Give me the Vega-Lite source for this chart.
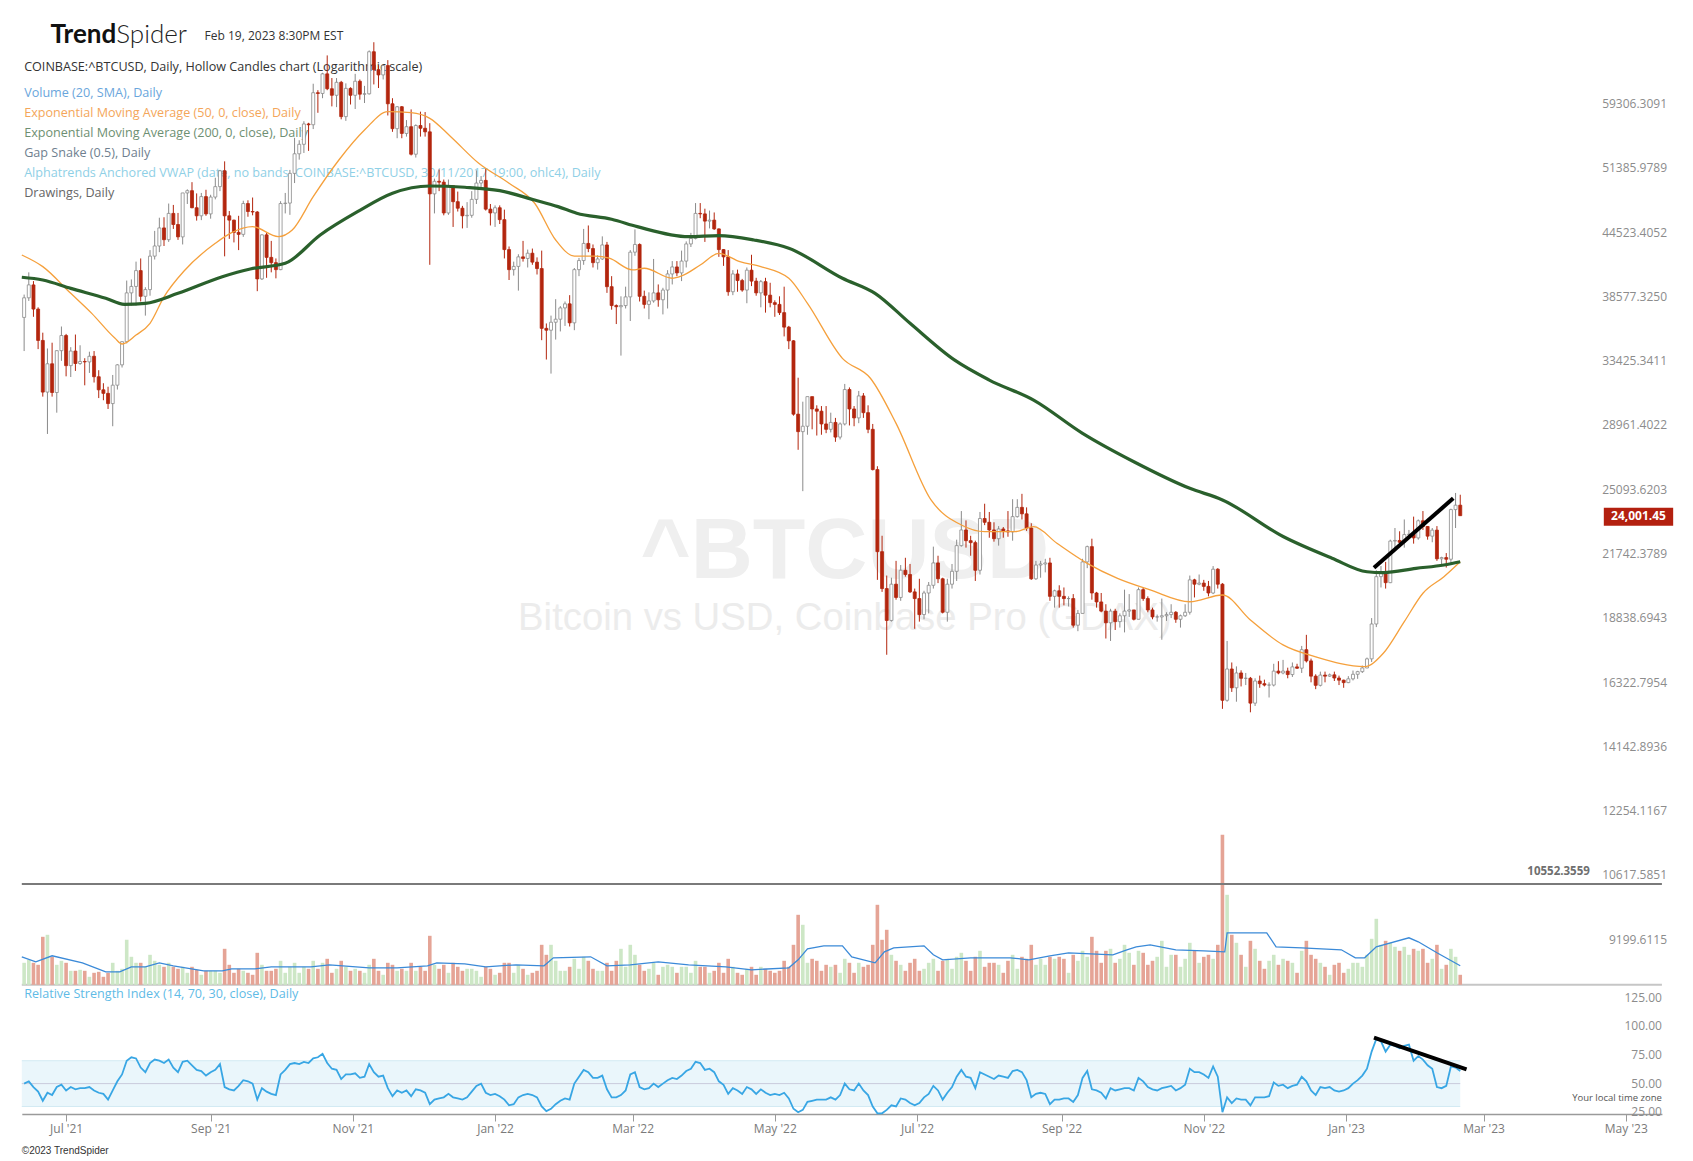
{
"$schema":"https://vega.github.io/schema/vega-lite/v6.json",
"width":1693,"height":1161,"autosize":"none","padding":0,"background":"#ffffff",
"config":{"view":{"stroke":null},"axis":{"grid":false}},
"datasets":{
"candles":[
{"d":"2021-06-13","o":37350,"h":39300,"l":34650,"c":39020,"v":22,"r":50},
{"d":"2021-06-15","o":39020,"h":41300,"l":38750,"c":40160,"v":25,"r":52},
{"d":"2021-06-17","o":40160,"h":40500,"l":37400,"c":38050,"v":22,"r":47},
{"d":"2021-06-19","o":38050,"h":38200,"l":34800,"c":35480,"v":20,"r":43},
{"d":"2021-06-21","o":35480,"h":36100,"l":31300,"c":31620,"v":48,"r":35},
{"d":"2021-06-23","o":31620,"h":34850,"l":28800,"c":33680,"v":50,"r":42},
{"d":"2021-06-25","o":33680,"h":35300,"l":31300,"c":31590,"v":28,"r":40},
{"d":"2021-06-27","o":31590,"h":34700,"l":30200,"c":34680,"v":20,"r":47},
{"d":"2021-06-29","o":34680,"h":36600,"l":33900,"c":35870,"v":24,"r":49},
{"d":"2021-07-01","o":35870,"h":36000,"l":32750,"c":33540,"v":22,"r":44},
{"d":"2021-07-03","o":33540,"h":34950,"l":32700,"c":34650,"v":14,"r":47},
{"d":"2021-07-05","o":34650,"h":35950,"l":33150,"c":33700,"v":14,"r":45},
{"d":"2021-07-07","o":33700,"h":35100,"l":33600,"c":33850,"v":15,"r":46},
{"d":"2021-07-09","o":33850,"h":34100,"l":32100,"c":33820,"v":14,"r":46},
{"d":"2021-07-11","o":33820,"h":34600,"l":33000,"c":34250,"v":8,"r":47},
{"d":"2021-07-13","o":34250,"h":34650,"l":32300,"c":32720,"v":12,"r":44},
{"d":"2021-07-15","o":32720,"h":33200,"l":31200,"c":31780,"v":13,"r":42},
{"d":"2021-07-17","o":31780,"h":32250,"l":31050,"c":31530,"v":8,"r":41},
{"d":"2021-07-19","o":31530,"h":32000,"l":30450,"c":30820,"v":12,"r":36},
{"d":"2021-07-21","o":30820,"h":32850,"l":29300,"c":32110,"v":22,"r":44},
{"d":"2021-07-23","o":32110,"h":33650,"l":31800,"c":33600,"v":14,"r":52},
{"d":"2021-07-25","o":33600,"h":35400,"l":33400,"c":35380,"v":16,"r":58},
{"d":"2021-07-27","o":35380,"h":40550,"l":35250,"c":39450,"v":45,"r":70},
{"d":"2021-07-29","o":39450,"h":40650,"l":38350,"c":40020,"v":28,"r":73},
{"d":"2021-07-31","o":40020,"h":42300,"l":38350,"c":41460,"v":22,"r":72},
{"d":"2021-08-02","o":41460,"h":42600,"l":38700,"c":39150,"v":22,"r":64},
{"d":"2021-08-04","o":39150,"h":39950,"l":37500,"c":39740,"v":18,"r":60},
{"d":"2021-08-06","o":39740,"h":43400,"l":39200,"c":42820,"v":30,"r":68},
{"d":"2021-08-08","o":42820,"h":45300,"l":42500,"c":43800,"v":24,"r":71},
{"d":"2021-08-10","o":43800,"h":46650,"l":43200,"c":45600,"v":20,"r":70},
{"d":"2021-08-12","o":45600,"h":46700,"l":43800,"c":44420,"v":18,"r":68},
{"d":"2021-08-14","o":44420,"h":48150,"l":44200,"c":47100,"v":22,"r":71},
{"d":"2021-08-16","o":47100,"h":48000,"l":45500,"c":45950,"v":18,"r":64},
{"d":"2021-08-18","o":45950,"h":47150,"l":44400,"c":44700,"v":16,"r":60},
{"d":"2021-08-20","o":44700,"h":49300,"l":43950,"c":49300,"v":18,"r":69},
{"d":"2021-08-22","o":49300,"h":49700,"l":48100,"c":49550,"v":12,"r":70},
{"d":"2021-08-24","o":49550,"h":50500,"l":47650,"c":47700,"v":18,"r":66},
{"d":"2021-08-26","o":47700,"h":49250,"l":46350,"c":46850,"v":15,"r":62},
{"d":"2021-08-28","o":46850,"h":49300,"l":46400,"c":48900,"v":10,"r":61},
{"d":"2021-08-30","o":48900,"h":49650,"l":46850,"c":47050,"v":14,"r":57},
{"d":"2021-09-01","o":47050,"h":49100,"l":46550,"c":48850,"v":14,"r":60},
{"d":"2021-09-03","o":48850,"h":51000,"l":48600,"c":50000,"v":14,"r":62},
{"d":"2021-09-05","o":50000,"h":51900,"l":49500,"c":51800,"v":12,"r":67},
{"d":"2021-09-07","o":51800,"h":52900,"l":42800,"c":46850,"v":36,"r":47},
{"d":"2021-09-09","o":46850,"h":47350,"l":44500,"c":46400,"v":20,"r":45},
{"d":"2021-09-11","o":46400,"h":46450,"l":44150,"c":45150,"v":12,"r":44},
{"d":"2021-09-13","o":45150,"h":46850,"l":43400,"c":44950,"v":16,"r":48},
{"d":"2021-09-15","o":44950,"h":48450,"l":44700,"c":48150,"v":14,"r":53},
{"d":"2021-09-17","o":48150,"h":48500,"l":46750,"c":47300,"v":12,"r":52},
{"d":"2021-09-19","o":47300,"h":48800,"l":46900,"c":47250,"v":10,"r":50},
{"d":"2021-09-21","o":47250,"h":47350,"l":39600,"c":40700,"v":32,"r":36},
{"d":"2021-09-23","o":40700,"h":44950,"l":40600,"c":44900,"v":20,"r":46},
{"d":"2021-09-25","o":44900,"h":45100,"l":40800,"c":42700,"v":14,"r":43},
{"d":"2021-09-27","o":42700,"h":44300,"l":41300,"c":42200,"v":14,"r":41},
{"d":"2021-09-29","o":42200,"h":42600,"l":40750,"c":41550,"v":16,"r":40},
{"d":"2021-10-01","o":41550,"h":48400,"l":41500,"c":48150,"v":24,"r":58},
{"d":"2021-10-03","o":48150,"h":49300,"l":47100,"c":48200,"v":12,"r":62},
{"d":"2021-10-05","o":48200,"h":51900,"l":46950,"c":51500,"v":18,"r":67},
{"d":"2021-10-07","o":51500,"h":55750,"l":50400,"c":53800,"v":22,"r":68},
{"d":"2021-10-09","o":53800,"h":55450,"l":53100,"c":54950,"v":12,"r":67},
{"d":"2021-10-11","o":54950,"h":57850,"l":53900,"c":57500,"v":18,"r":69},
{"d":"2021-10-13","o":57500,"h":57650,"l":54150,"c":57400,"v":16,"r":68},
{"d":"2021-10-15","o":57400,"h":62900,"l":56850,"c":61650,"v":24,"r":72},
{"d":"2021-10-17","o":61650,"h":62000,"l":58950,"c":61550,"v":16,"r":73},
{"d":"2021-10-19","o":61550,"h":64450,"l":60900,"c":64300,"v":22,"r":76},
{"d":"2021-10-21","o":64300,"h":67000,"l":62000,"c":62200,"v":26,"r":68},
{"d":"2021-10-23","o":62200,"h":63700,"l":59800,"c":61300,"v":12,"r":63},
{"d":"2021-10-25","o":61300,"h":63700,"l":59700,"c":63100,"v":16,"r":62},
{"d":"2021-10-27","o":63100,"h":63300,"l":58100,"c":58450,"v":24,"r":54},
{"d":"2021-10-29","o":58450,"h":62950,"l":57900,"c":62250,"v":18,"r":58},
{"d":"2021-10-31","o":62250,"h":62400,"l":60050,"c":61300,"v":14,"r":58},
{"d":"2021-11-02","o":61300,"h":64300,"l":59450,"c":63250,"v":16,"r":59},
{"d":"2021-11-04","o":63250,"h":63500,"l":60700,"c":61450,"v":14,"r":55},
{"d":"2021-11-06","o":61450,"h":62600,"l":60250,"c":61500,"v":12,"r":56},
{"d":"2021-11-08","o":61500,"h":67750,"l":61400,"c":67550,"v":20,"r":67},
{"d":"2021-11-10","o":67550,"h":69000,"l":62800,"c":64900,"v":26,"r":60},
{"d":"2021-11-12","o":64900,"h":65550,"l":62300,"c":64150,"v":14,"r":56},
{"d":"2021-11-14","o":64150,"h":65600,"l":63500,"c":65500,"v":10,"r":57},
{"d":"2021-11-16","o":65500,"h":66300,"l":58600,"c":60150,"v":22,"r":46},
{"d":"2021-11-18","o":60150,"h":60900,"l":56500,"c":56900,"v":20,"r":39},
{"d":"2021-11-20","o":56900,"h":59850,"l":55700,"c":59750,"v":14,"r":44},
{"d":"2021-11-22","o":59750,"h":59850,"l":55700,"c":56300,"v":16,"r":42},
{"d":"2021-11-24","o":56300,"h":58000,"l":55900,"c":57150,"v":14,"r":44},
{"d":"2021-11-26","o":57150,"h":59400,"l":53600,"c":53750,"v":22,"r":39},
{"d":"2021-11-28","o":53750,"h":57450,"l":53350,"c":57300,"v":14,"r":45},
{"d":"2021-11-30","o":57300,"h":59100,"l":55900,"c":56950,"v":18,"r":44},
{"d":"2021-12-02","o":56950,"h":59050,"l":55900,"c":56500,"v":14,"r":42},
{"d":"2021-12-04","o":56500,"h":57600,"l":42000,"c":49200,"v":49,"r":32},
{"d":"2021-12-06","o":49200,"h":50900,"l":47100,"c":50600,"v":20,"r":36},
{"d":"2021-12-08","o":50600,"h":51950,"l":49500,"c":50500,"v":16,"r":37},
{"d":"2021-12-10","o":50500,"h":50800,"l":46900,"c":47150,"v":20,"r":38},
{"d":"2021-12-12","o":47150,"h":50800,"l":46950,"c":50100,"v":12,"r":41},
{"d":"2021-12-14","o":50100,"h":50100,"l":45700,"c":48350,"v":22,"r":38},
{"d":"2021-12-16","o":48350,"h":49450,"l":47300,"c":47650,"v":18,"r":37},
{"d":"2021-12-18","o":47650,"h":47900,"l":45550,"c":46850,"v":14,"r":36},
{"d":"2021-12-20","o":46850,"h":48300,"l":45600,"c":46900,"v":16,"r":38},
{"d":"2021-12-22","o":46900,"h":49500,"l":46650,"c":48600,"v":16,"r":43},
{"d":"2021-12-24","o":48600,"h":51850,"l":48100,"c":50400,"v":14,"r":48},
{"d":"2021-12-26","o":50400,"h":51200,"l":49950,"c":50700,"v":8,"r":50},
{"d":"2021-12-28","o":50700,"h":52050,"l":47400,"c":47550,"v":18,"r":42},
{"d":"2021-12-30","o":47550,"h":48100,"l":45850,"c":47150,"v":16,"r":40},
{"d":"2022-01-01","o":47150,"h":47950,"l":45700,"c":47700,"v":10,"r":41},
{"d":"2022-01-03","o":47700,"h":47950,"l":46000,"c":46450,"v":12,"r":39},
{"d":"2022-01-05","o":46450,"h":47500,"l":42600,"c":43450,"v":22,"r":36},
{"d":"2022-01-07","o":43450,"h":43750,"l":40600,"c":41550,"v":22,"r":31},
{"d":"2022-01-09","o":41550,"h":42300,"l":41000,"c":41850,"v":12,"r":32},
{"d":"2022-01-11","o":41850,"h":43000,"l":39650,"c":42750,"v":20,"r":38},
{"d":"2022-01-13","o":42750,"h":44300,"l":42300,"c":42600,"v":16,"r":40},
{"d":"2022-01-15","o":42600,"h":43450,"l":41750,"c":43100,"v":10,"r":41},
{"d":"2022-01-17","o":43100,"h":43550,"l":42000,"c":42250,"v":12,"r":40},
{"d":"2022-01-19","o":42250,"h":42700,"l":41100,"c":41650,"v":14,"r":38},
{"d":"2022-01-21","o":41650,"h":43350,"l":35500,"c":36450,"v":40,"r":30},
{"d":"2022-01-23","o":36450,"h":36850,"l":34000,"c":36300,"v":30,"r":26},
{"d":"2022-01-25","o":36300,"h":37500,"l":32950,"c":36950,"v":40,"r":28},
{"d":"2022-01-27","o":36950,"h":38900,"l":35550,"c":37200,"v":24,"r":32},
{"d":"2022-01-29","o":37200,"h":38300,"l":36200,"c":38150,"v":14,"r":35},
{"d":"2022-01-31","o":38150,"h":38700,"l":36650,"c":38500,"v":14,"r":37},
{"d":"2022-02-02","o":38500,"h":39250,"l":36600,"c":36900,"v":18,"r":36},
{"d":"2022-02-04","o":36900,"h":41700,"l":36300,"c":41550,"v":26,"r":50},
{"d":"2022-02-06","o":41550,"h":42650,"l":40950,"c":42400,"v":16,"r":56},
{"d":"2022-02-08","o":42400,"h":45500,"l":42000,"c":44050,"v":28,"r":62},
{"d":"2022-02-10","o":44050,"h":45850,"l":43200,"c":43550,"v":24,"r":60},
{"d":"2022-02-12","o":43550,"h":43950,"l":41750,"c":42200,"v":16,"r":55},
{"d":"2022-02-14","o":42200,"h":42900,"l":41550,"c":42550,"v":14,"r":55},
{"d":"2022-02-16","o":42550,"h":44750,"l":42450,"c":43900,"v":14,"r":57},
{"d":"2022-02-18","o":43900,"h":44200,"l":39450,"c":40000,"v":22,"r":45},
{"d":"2022-02-20","o":40000,"h":40950,"l":38000,"c":38350,"v":14,"r":38},
{"d":"2022-02-22","o":38350,"h":38450,"l":36800,"c":38250,"v":24,"r":38},
{"d":"2022-02-24","o":38250,"h":39150,"l":34300,"c":38350,"v":36,"r":40},
{"d":"2022-02-26","o":38350,"h":40000,"l":38100,"c":39100,"v":18,"r":44},
{"d":"2022-02-28","o":39100,"h":43400,"l":37050,"c":43200,"v":40,"r":58},
{"d":"2022-03-02","o":43200,"h":45450,"l":42850,"c":43950,"v":30,"r":60},
{"d":"2022-03-04","o":43950,"h":44050,"l":38700,"c":39150,"v":20,"r":47},
{"d":"2022-03-06","o":39150,"h":39650,"l":38100,"c":38450,"v":14,"r":45},
{"d":"2022-03-08","o":38450,"h":39500,"l":37200,"c":38750,"v":16,"r":46},
{"d":"2022-03-10","o":38750,"h":42550,"l":38600,"c":39450,"v":22,"r":50},
{"d":"2022-03-12","o":39450,"h":40200,"l":38250,"c":38850,"v":10,"r":47},
{"d":"2022-03-14","o":38850,"h":39900,"l":37600,"c":39700,"v":18,"r":50},
{"d":"2022-03-16","o":39700,"h":41500,"l":38100,"c":41150,"v":20,"r":53},
{"d":"2022-03-18","o":41150,"h":42350,"l":40200,"c":41800,"v":18,"r":55},
{"d":"2022-03-20","o":41800,"h":42350,"l":40950,"c":41250,"v":12,"r":54},
{"d":"2022-03-22","o":41250,"h":43350,"l":40500,"c":42350,"v":18,"r":57},
{"d":"2022-03-24","o":42350,"h":44250,"l":41750,"c":44000,"v":18,"r":61},
{"d":"2022-03-26","o":44000,"h":45100,"l":43700,"c":44550,"v":12,"r":63},
{"d":"2022-03-28","o":44550,"h":48200,"l":44450,"c":47100,"v":24,"r":69},
{"d":"2022-03-30","o":47100,"h":48200,"l":46600,"c":47050,"v":18,"r":68},
{"d":"2022-04-01","o":47050,"h":47600,"l":44200,"c":46300,"v":18,"r":62},
{"d":"2022-04-03","o":46300,"h":47400,"l":45550,"c":46400,"v":12,"r":63},
{"d":"2022-04-05","o":46400,"h":47200,"l":45400,"c":45500,"v":14,"r":60},
{"d":"2022-04-07","o":45500,"h":45550,"l":42750,"c":43450,"v":22,"r":52},
{"d":"2022-04-09","o":43450,"h":43500,"l":41900,"c":42750,"v":12,"r":49},
{"d":"2022-04-11","o":42750,"h":43400,"l":39200,"c":39550,"v":26,"r":41},
{"d":"2022-04-13","o":39550,"h":41500,"l":39250,"c":41150,"v":18,"r":46},
{"d":"2022-04-15","o":41150,"h":41550,"l":39550,"c":40550,"v":12,"r":44},
{"d":"2022-04-17","o":40550,"h":40700,"l":39550,"c":39700,"v":10,"r":41},
{"d":"2022-04-19","o":39700,"h":41750,"l":38550,"c":41500,"v":16,"r":47},
{"d":"2022-04-21","o":41500,"h":42950,"l":40050,"c":40500,"v":18,"r":45},
{"d":"2022-04-23","o":40500,"h":40800,"l":39200,"c":39450,"v":10,"r":41},
{"d":"2022-04-25","o":39450,"h":40600,"l":38200,"c":40450,"v":18,"r":45},
{"d":"2022-04-27","o":40450,"h":40800,"l":37750,"c":39250,"v":16,"r":42},
{"d":"2022-04-29","o":39250,"h":40350,"l":38200,"c":38600,"v":14,"r":40},
{"d":"2022-05-01","o":38600,"h":38800,"l":37400,"c":38450,"v":12,"r":41},
{"d":"2022-05-03","o":38450,"h":39150,"l":37550,"c":37750,"v":14,"r":40},
{"d":"2022-05-05","o":37750,"h":40000,"l":35800,"c":36550,"v":24,"r":42},
{"d":"2022-05-07","o":36550,"h":36650,"l":34800,"c":35450,"v":18,"r":37},
{"d":"2022-05-09","o":35450,"h":35500,"l":30000,"c":30100,"v":40,"r":28},
{"d":"2022-05-11","o":30100,"h":32650,"l":27800,"c":28950,"v":70,"r":25},
{"d":"2022-05-13","o":28950,"h":30950,"l":25350,"c":29300,"v":60,"r":27},
{"d":"2022-05-15","o":29300,"h":31300,"l":28750,"c":31300,"v":22,"r":34},
{"d":"2022-05-17","o":31300,"h":31300,"l":29100,"c":30450,"v":26,"r":35},
{"d":"2022-05-19","o":30450,"h":30700,"l":28700,"c":30300,"v":24,"r":36},
{"d":"2022-05-21","o":30300,"h":30650,"l":28750,"c":29450,"v":14,"r":36},
{"d":"2022-05-23","o":29450,"h":30650,"l":28850,"c":29100,"v":20,"r":36},
{"d":"2022-05-25","o":29100,"h":30200,"l":28900,"c":29550,"v":18,"r":38},
{"d":"2022-05-27","o":29550,"h":29850,"l":28300,"c":28600,"v":20,"r":36},
{"d":"2022-05-29","o":28600,"h":29550,"l":28450,"c":29450,"v":12,"r":40},
{"d":"2022-05-31","o":29450,"h":32200,"l":29350,"c":31800,"v":26,"r":50},
{"d":"2022-06-02","o":31800,"h":31950,"l":29350,"c":30450,"v":22,"r":45},
{"d":"2022-06-04","o":30450,"h":30650,"l":29300,"c":29850,"v":12,"r":44},
{"d":"2022-06-06","o":29850,"h":31700,"l":29500,"c":31350,"v":22,"r":50},
{"d":"2022-06-08","o":31350,"h":31550,"l":29850,"c":30200,"v":18,"r":44},
{"d":"2022-06-10","o":30200,"h":30700,"l":28850,"c":29100,"v":20,"r":40},
{"d":"2022-06-12","o":29100,"h":29450,"l":26550,"c":26600,"v":40,"r":30},
{"d":"2022-06-14","o":26600,"h":26800,"l":20800,"c":22150,"v":80,"r":24},
{"d":"2022-06-16","o":22150,"h":22950,"l":20250,"c":20400,"v":45,"r":24},
{"d":"2022-06-18","o":20400,"h":21000,"l":17600,"c":19000,"v":55,"r":27},
{"d":"2022-06-20","o":19000,"h":20900,"l":18950,"c":20600,"v":30,"r":31},
{"d":"2022-06-22","o":20600,"h":21700,"l":19900,"c":20000,"v":24,"r":30},
{"d":"2022-06-24","o":20000,"h":21500,"l":19850,"c":21250,"v":20,"r":37},
{"d":"2022-06-26","o":21250,"h":21850,"l":20950,"c":21050,"v":14,"r":36},
{"d":"2022-06-28","o":21050,"h":21550,"l":20200,"c":20250,"v":22,"r":33},
{"d":"2022-06-30","o":20250,"h":20400,"l":18650,"c":19950,"v":26,"r":31},
{"d":"2022-07-02","o":19950,"h":20850,"l":18950,"c":19250,"v":14,"r":33},
{"d":"2022-07-04","o":19250,"h":20300,"l":19050,"c":20200,"v":16,"r":38},
{"d":"2022-07-06","o":20200,"h":20700,"l":19300,"c":20550,"v":22,"r":41},
{"d":"2022-07-08","o":20550,"h":22400,"l":20400,"c":21600,"v":26,"r":48},
{"d":"2022-07-10","o":21600,"h":21950,"l":20650,"c":20850,"v":14,"r":44},
{"d":"2022-07-12","o":20850,"h":20900,"l":19300,"c":19350,"v":24,"r":36},
{"d":"2022-07-14","o":19350,"h":20850,"l":18950,"c":20600,"v":26,"r":42},
{"d":"2022-07-16","o":20600,"h":21550,"l":20400,"c":21200,"v":16,"r":47},
{"d":"2022-07-18","o":21200,"h":22750,"l":20750,"c":22450,"v":28,"r":56},
{"d":"2022-07-20","o":22450,"h":24250,"l":22400,"c":23250,"v":32,"r":62},
{"d":"2022-07-22","o":23250,"h":23750,"l":22350,"c":22700,"v":24,"r":56},
{"d":"2022-07-24","o":22700,"h":22950,"l":21950,"c":22600,"v":14,"r":55},
{"d":"2022-07-26","o":22600,"h":22700,"l":20750,"c":21250,"v":28,"r":46},
{"d":"2022-07-28","o":21250,"h":24200,"l":21050,"c":23850,"v":34,"r":60},
{"d":"2022-07-30","o":23850,"h":24650,"l":23500,"c":23650,"v":18,"r":58},
{"d":"2022-08-01","o":23650,"h":24200,"l":22850,"c":23250,"v":22,"r":56},
{"d":"2022-08-03","o":23250,"h":23650,"l":22650,"c":22800,"v":22,"r":54},
{"d":"2022-08-05","o":22800,"h":23450,"l":22450,"c":23300,"v":20,"r":57},
{"d":"2022-08-07","o":23300,"h":23400,"l":22850,"c":23200,"v":12,"r":56},
{"d":"2022-08-09","o":23200,"h":24250,"l":22900,"c":23150,"v":24,"r":55},
{"d":"2022-08-11","o":23150,"h":24900,"l":22700,"c":23950,"v":30,"r":61},
{"d":"2022-08-13","o":23950,"h":24900,"l":23900,"c":24450,"v":16,"r":62},
{"d":"2022-08-15","o":24450,"h":25200,"l":23800,"c":24100,"v":28,"r":60},
{"d":"2022-08-17","o":24100,"h":24450,"l":23200,"c":23350,"v":26,"r":53},
{"d":"2022-08-19","o":23350,"h":23600,"l":20800,"c":20850,"v":40,"r":38},
{"d":"2022-08-21","o":20850,"h":21700,"l":20800,"c":21500,"v":20,"r":41},
{"d":"2022-08-23","o":21500,"h":21700,"l":20900,"c":21550,"v":26,"r":42},
{"d":"2022-08-25","o":21550,"h":21800,"l":21150,"c":21600,"v":20,"r":41},
{"d":"2022-08-27","o":21600,"h":21850,"l":19850,"c":20050,"v":28,"r":32},
{"d":"2022-08-29","o":20050,"h":20350,"l":19550,"c":20300,"v":26,"r":36},
{"d":"2022-08-31","o":20300,"h":20550,"l":19550,"c":20050,"v":28,"r":36},
{"d":"2022-09-02","o":20050,"h":20450,"l":19650,"c":19950,"v":26,"r":37},
{"d":"2022-09-04","o":19950,"h":20050,"l":19600,"c":19950,"v":12,"r":37},
{"d":"2022-09-06","o":19950,"h":20150,"l":18700,"c":18800,"v":30,"r":34},
{"d":"2022-09-08","o":18800,"h":19450,"l":18550,"c":19300,"v":24,"r":40},
{"d":"2022-09-10","o":19300,"h":21800,"l":19300,"c":21650,"v":34,"r":55},
{"d":"2022-09-12","o":21650,"h":22450,"l":21350,"c":22400,"v":28,"r":61},
{"d":"2022-09-14","o":22400,"h":22800,"l":19900,"c":20200,"v":48,"r":45},
{"d":"2022-09-16","o":20200,"h":20250,"l":19550,"c":19800,"v":34,"r":44},
{"d":"2022-09-18","o":19800,"h":20200,"l":19350,"c":19400,"v":22,"r":42},
{"d":"2022-09-20","o":19400,"h":19700,"l":18250,"c":18900,"v":34,"r":37},
{"d":"2022-09-22","o":18900,"h":19500,"l":18150,"c":19400,"v":36,"r":46},
{"d":"2022-09-24","o":19400,"h":19500,"l":18600,"c":18950,"v":22,"r":44},
{"d":"2022-09-26","o":18950,"h":19300,"l":18700,"c":19200,"v":26,"r":45},
{"d":"2022-09-28","o":19200,"h":20350,"l":18500,"c":19400,"v":40,"r":46},
{"d":"2022-09-30","o":19400,"h":20150,"l":19150,"c":19450,"v":32,"r":46},
{"d":"2022-10-02","o":19450,"h":19450,"l":19000,"c":19050,"v":20,"r":44},
{"d":"2022-10-04","o":19050,"h":20450,"l":19050,"c":20350,"v":34,"r":55},
{"d":"2022-10-06","o":20350,"h":20450,"l":19850,"c":19950,"v":32,"r":52},
{"d":"2022-10-08","o":19950,"h":20050,"l":19350,"c":19450,"v":20,"r":47},
{"d":"2022-10-10","o":19450,"h":19550,"l":19050,"c":19150,"v":24,"r":45},
{"d":"2022-10-12","o":19150,"h":19250,"l":18950,"c":19150,"v":28,"r":44},
{"d":"2022-10-14","o":19150,"h":19950,"l":18200,"c":19200,"v":44,"r":46},
{"d":"2022-10-16","o":19200,"h":19350,"l":18980,"c":19250,"v":18,"r":47},
{"d":"2022-10-18","o":19250,"h":19700,"l":19100,"c":19350,"v":30,"r":48},
{"d":"2022-10-20","o":19350,"h":19400,"l":18900,"c":19050,"v":30,"r":44},
{"d":"2022-10-22","o":19050,"h":19250,"l":18700,"c":19200,"v":18,"r":46},
{"d":"2022-10-24","o":19200,"h":19700,"l":19150,"c":19350,"v":26,"r":49},
{"d":"2022-10-26","o":19350,"h":21000,"l":19250,"c":20800,"v":42,"r":63},
{"d":"2022-10-28","o":20800,"h":20850,"l":20000,"c":20600,"v":34,"r":60},
{"d":"2022-10-30","o":20600,"h":21050,"l":20550,"c":20650,"v":22,"r":60},
{"d":"2022-11-01","o":20650,"h":20800,"l":20300,"c":20500,"v":28,"r":58},
{"d":"2022-11-03","o":20500,"h":20750,"l":20050,"c":20200,"v":30,"r":55},
{"d":"2022-11-05","o":20200,"h":21450,"l":20150,"c":21300,"v":26,"r":65},
{"d":"2022-11-07","o":21300,"h":21350,"l":20400,"c":20600,"v":40,"r":56},
{"d":"2022-11-09","o":20600,"h":20650,"l":15600,"c":15900,"v":150,"r":25},
{"d":"2022-11-11","o":15900,"h":18150,"l":15850,"c":17050,"v":90,"r":38},
{"d":"2022-11-13","o":17050,"h":17300,"l":16200,"c":16350,"v":50,"r":33},
{"d":"2022-11-15","o":16350,"h":17150,"l":15850,"c":16900,"v":42,"r":37},
{"d":"2022-11-17","o":16900,"h":17000,"l":16400,"c":16700,"v":30,"r":36},
{"d":"2022-11-19","o":16700,"h":16900,"l":16450,"c":16700,"v":18,"r":36},
{"d":"2022-11-21","o":16700,"h":16750,"l":15480,"c":15800,"v":44,"r":31},
{"d":"2022-11-23","o":15800,"h":16700,"l":15700,"c":16600,"v":36,"r":38},
{"d":"2022-11-25","o":16600,"h":16800,"l":16350,"c":16500,"v":24,"r":38},
{"d":"2022-11-27","o":16500,"h":16650,"l":16400,"c":16450,"v":16,"r":38},
{"d":"2022-11-29","o":16450,"h":16550,"l":16000,"c":16450,"v":24,"r":39},
{"d":"2022-12-01","o":16450,"h":17250,"l":16400,"c":16970,"v":30,"r":51},
{"d":"2022-12-03","o":16970,"h":17350,"l":16850,"c":16900,"v":20,"r":48},
{"d":"2022-12-05","o":16900,"h":17400,"l":16850,"c":16970,"v":26,"r":49},
{"d":"2022-12-07","o":16970,"h":17100,"l":16700,"c":16840,"v":24,"r":46},
{"d":"2022-12-09","o":16840,"h":17300,"l":16750,"c":17130,"v":22,"r":48},
{"d":"2022-12-11","o":17130,"h":17250,"l":17050,"c":17080,"v":12,"r":49},
{"d":"2022-12-13","o":17080,"h":17950,"l":16900,"c":17800,"v":34,"r":56},
{"d":"2022-12-15","o":17800,"h":18400,"l":17300,"c":17360,"v":44,"r":52},
{"d":"2022-12-17","o":17360,"h":17450,"l":16550,"c":16780,"v":30,"r":44},
{"d":"2022-12-19","o":16780,"h":16850,"l":16300,"c":16440,"v":26,"r":40},
{"d":"2022-12-21","o":16440,"h":16950,"l":16400,"c":16820,"v":22,"r":47},
{"d":"2022-12-23","o":16820,"h":16950,"l":16550,"c":16780,"v":18,"r":46},
{"d":"2022-12-25","o":16780,"h":16880,"l":16750,"c":16830,"v":10,"r":47},
{"d":"2022-12-27","o":16830,"h":16950,"l":16600,"c":16710,"v":20,"r":44},
{"d":"2022-12-29","o":16710,"h":16800,"l":16450,"c":16630,"v":22,"r":43},
{"d":"2022-12-31","o":16630,"h":16650,"l":16350,"c":16540,"v":12,"r":44},
{"d":"2023-01-02","o":16540,"h":16780,"l":16520,"c":16680,"v":16,"r":46},
{"d":"2023-01-04","o":16680,"h":16990,"l":16620,"c":16850,"v":22,"r":50},
{"d":"2023-01-06","o":16850,"h":16980,"l":16680,"c":16950,"v":22,"r":53},
{"d":"2023-01-08","o":16950,"h":17180,"l":16900,"c":17090,"v":18,"r":57},
{"d":"2023-01-10","o":17090,"h":17490,"l":17080,"c":17440,"v":30,"r":63},
{"d":"2023-01-12","o":17440,"h":19100,"l":17320,"c":18850,"v":46,"r":78},
{"d":"2023-01-14","o":18850,"h":21250,"l":18720,"c":20950,"v":66,"r":89},
{"d":"2023-01-16","o":20950,"h":21450,"l":20450,"c":21170,"v":40,"r":87},
{"d":"2023-01-18","o":21170,"h":21650,"l":20400,"c":20670,"v":44,"r":78},
{"d":"2023-01-20","o":20670,"h":22750,"l":20650,"c":22680,"v":42,"r":84},
{"d":"2023-01-22","o":22680,"h":23350,"l":22300,"c":22710,"v":38,"r":83},
{"d":"2023-01-24","o":22710,"h":23180,"l":22520,"c":22620,"v":34,"r":81},
{"d":"2023-01-26","o":22620,"h":23800,"l":22350,"c":23010,"v":38,"r":83},
{"d":"2023-01-28","o":23010,"h":23250,"l":22900,"c":23030,"v":30,"r":84},
{"d":"2023-01-30","o":23030,"h":23950,"l":22550,"c":22840,"v":36,"r":70},
{"d":"2023-02-01","o":22840,"h":23800,"l":22750,"c":23730,"v":34,"r":74},
{"d":"2023-02-03","o":23730,"h":24250,"l":23250,"c":23430,"v":36,"r":71},
{"d":"2023-02-05","o":23430,"h":23450,"l":22750,"c":22930,"v":22,"r":66},
{"d":"2023-02-07","o":22930,"h":23350,"l":22620,"c":23240,"v":26,"r":63},
{"d":"2023-02-09","o":23240,"h":23450,"l":21700,"c":21800,"v":40,"r":47},
{"d":"2023-02-11","o":21800,"h":21900,"l":21450,"c":21860,"v":16,"r":46},
{"d":"2023-02-13","o":21860,"h":22080,"l":21380,"c":21780,"v":20,"r":48},
{"d":"2023-02-15","o":21780,"h":24380,"l":21540,"c":24330,"v":36,"r":65},
{"d":"2023-02-17","o":24330,"h":25250,"l":23350,"c":24570,"v":28,"r":64},
{"d":"2023-02-19","o":24570,"h":25150,"l":24000,"c":24001.45,"v":10,"r":61}
],
"ema50":[
{"d":"2021-06-12","p":42930},{"d":"2021-06-21","p":41830},{"d":"2021-07-03","p":39410},{"d":"2021-07-12","p":37690},{"d":"2021-07-22","p":35650},{"d":"2021-07-25","p":35200},{"d":"2021-07-31","p":35910},{"d":"2021-08-06","p":36860},{"d":"2021-08-12","p":39100},{"d":"2021-08-21","p":41520},{"d":"2021-09-03","p":44060},{"d":"2021-09-10","p":45120},{"d":"2021-09-19","p":45730},{"d":"2021-09-30","p":44720},{"d":"2021-10-06","p":45390},{"d":"2021-10-15","p":48890},{"d":"2021-10-26","p":53060},{"d":"2021-11-06","p":56730},{"d":"2021-11-16","p":59100},{"d":"2021-11-26","p":58960},{"d":"2021-12-04","p":58230},{"d":"2021-12-13","p":55890},{"d":"2021-12-25","p":52670},{"d":"2022-01-07","p":50380},{"d":"2022-01-18","p":48180},{"d":"2022-01-27","p":44390},{"d":"2022-02-04","p":42830},{"d":"2022-02-13","p":42830},{"d":"2022-02-19","p":42620},{"d":"2022-03-01","p":41520},{"d":"2022-03-06","p":41680},{"d":"2022-03-18","p":40760},{"d":"2022-03-22","p":40970},{"d":"2022-03-30","p":41980},{"d":"2022-04-07","p":43090},{"d":"2022-04-16","p":42290},{"d":"2022-04-25","p":41830},{"d":"2022-05-07","p":40760},{"d":"2022-05-15","p":38540},{"d":"2022-05-30","p":34090},{"d":"2022-06-11","p":32610},{"d":"2022-06-22","p":29490},{"d":"2022-07-07","p":24860},{"d":"2022-07-20","p":23510},{"d":"2022-07-30","p":23160},{"d":"2022-08-12","p":23160},{"d":"2022-08-20","p":23420},{"d":"2022-08-30","p":22570},{"d":"2022-09-12","p":21580},{"d":"2022-09-25","p":20870},{"d":"2022-10-09","p":20340},{"d":"2022-10-26","p":19810},{"d":"2022-11-09","p":20110},{"d":"2022-11-21","p":19020},{"d":"2022-12-05","p":17990},{"d":"2022-12-19","p":17520},{"d":"2023-01-09","p":17140},{"d":"2023-01-17","p":17660},{"d":"2023-01-26","p":18950},{"d":"2023-02-03","p":20190},{"d":"2023-02-12","p":20950},{"d":"2023-02-19","p":21660}
],
"ema200":[
{"d":"2021-06-12","p":40850},{"d":"2021-06-21","p":40600},{"d":"2021-07-03","p":39850},{"d":"2021-07-18","p":38980},{"d":"2021-07-26","p":38460},{"d":"2021-08-04","p":38540},{"d":"2021-08-18","p":39410},{"d":"2021-09-06","p":40900},{"d":"2021-09-18","p":41610},{"d":"2021-10-03","p":42140},{"d":"2021-10-18","p":44890},{"d":"2021-11-03","p":47280},{"d":"2021-11-18","p":49270},{"d":"2021-12-04","p":50070},{"d":"2021-12-19","p":49930},{"d":"2022-01-03","p":49550},{"d":"2022-01-18","p":48530},{"d":"2022-01-28","p":47820},{"d":"2022-02-05","p":47120},{"d":"2022-02-20","p":46490},{"d":"2022-03-03","p":45730},{"d":"2022-03-25","p":44720},{"d":"2022-04-07","p":44820},{"d":"2022-04-22","p":44390},{"d":"2022-05-07","p":43580},{"d":"2022-05-30","p":40760},{"d":"2022-06-13","p":39410},{"d":"2022-06-28","p":36860},{"d":"2022-07-17","p":33970},{"d":"2022-08-01","p":32480},{"d":"2022-08-20","p":31060},{"d":"2022-09-10","p":28840},{"d":"2022-10-02","p":27070},{"d":"2022-10-26","p":25510},{"d":"2022-11-09","p":24860},{"d":"2022-12-05","p":22910},{"d":"2022-12-26","p":21830},{"d":"2023-01-10","p":21180},{"d":"2023-01-17","p":21140},{"d":"2023-01-31","p":21340},{"d":"2023-02-12","p":21500},{"d":"2023-02-19","p":21660}
],
"volsma":[
{"d":"2021-06-12","v":28},{"d":"2021-06-18","v":23},{"d":"2021-06-25","v":29},{"d":"2021-07-08","v":22},{"d":"2021-07-18","v":13},{"d":"2021-07-24","v":13},{"d":"2021-07-29","v":18},{"d":"2021-08-04","v":18},{"d":"2021-08-10","v":22},{"d":"2021-08-16","v":19},{"d":"2021-08-29","v":14},{"d":"2021-09-06","v":14},{"d":"2021-09-10","v":16},{"d":"2021-09-20","v":16},{"d":"2021-09-27","v":18},{"d":"2021-10-14","v":18},{"d":"2021-10-22","v":20},{"d":"2021-11-08","v":17},{"d":"2021-11-20","v":17},{"d":"2021-12-03","v":19},{"d":"2021-12-07","v":22},{"d":"2021-12-19","v":21},{"d":"2021-12-28","v":18},{"d":"2022-01-10","v":20},{"d":"2022-01-22","v":19},{"d":"2022-01-26","v":27},{"d":"2022-02-11","v":28},{"d":"2022-02-18","v":19},{"d":"2022-02-28","v":20},{"d":"2022-03-12","v":23},{"d":"2022-03-25","v":20},{"d":"2022-04-10","v":18},{"d":"2022-04-21","v":15},{"d":"2022-05-07","v":17},{"d":"2022-05-11","v":25},{"d":"2022-05-15","v":36},{"d":"2022-05-22","v":39},{"d":"2022-05-30","v":39},{"d":"2022-06-03","v":28},{"d":"2022-06-13","v":22},{"d":"2022-06-17","v":33},{"d":"2022-06-21","v":37},{"d":"2022-07-04","v":39},{"d":"2022-07-08","v":30},{"d":"2022-07-12","v":25},{"d":"2022-07-24","v":27},{"d":"2022-08-10","v":27},{"d":"2022-08-18","v":25},{"d":"2022-08-27","v":29},{"d":"2022-09-04","v":32},{"d":"2022-09-23","v":30},{"d":"2022-09-29","v":35},{"d":"2022-10-03","v":38},{"d":"2022-10-09","v":40},{"d":"2022-10-20","v":35},{"d":"2022-11-01","v":34},{"d":"2022-11-10","v":33},{"d":"2022-11-11","v":52},{"d":"2022-11-28","v":52},{"d":"2022-12-02","v":38},{"d":"2022-12-13","v":37},{"d":"2022-12-30","v":35},{"d":"2023-01-05","v":27},{"d":"2023-01-09","v":27},{"d":"2023-01-14","v":38},{"d":"2023-01-28","v":47},{"d":"2023-02-01","v":43},{"d":"2023-02-09","v":32},{"d":"2023-02-19","v":19}
],
"pticks":[
{"d":"2023-05-18T17:00:00","p":59306.3091},{"d":"2023-05-18T17:00:00","p":51385.9789},{"d":"2023-05-18T17:00:00","p":44523.4052},{"d":"2023-05-18T17:00:00","p":38577.325},{"d":"2023-05-18T17:00:00","p":33425.3411},{"d":"2023-05-18T17:00:00","p":28961.4022},{"d":"2023-05-18T17:00:00","p":25093.6203},{"d":"2023-05-18T17:00:00","p":21742.3789},{"d":"2023-05-18T17:00:00","p":18838.6943},{"d":"2023-05-18T17:00:00","p":16322.7954},{"d":"2023-05-18T17:00:00","p":14142.8936},{"d":"2023-05-18T17:00:00","p":12254.1167},{"d":"2023-05-18T17:00:00","p":10617.5851},{"d":"2023-05-18T17:00:00","p":9199.6115}
],
"rticks":[
{"d":"2023-05-16T12:00:00","r":25},{"d":"2023-05-16T12:00:00","r":50},{"d":"2023-05-16T12:00:00","r":75},{"d":"2023-05-16T12:00:00","r":100},{"d":"2023-05-16T12:00:00","r":125}
]
},
"encoding":{
"x":{"field":"d","type":"temporal","title":null,
"scale":{"type":"utc","nice":false,"padding":0,"domain":[{"year":2021,"month":6,"date":12,"utc":true},{"year":2023,"month":5,"date":16,"hours":12,"utc":true}],"range":[21.8,1661.9]},
"axis":{"orient":"bottom","offset":-47,"format":"%b '%y","grid":false,"title":null,
"values":[{"year":2021,"month":7,"date":1,"utc":true},{"year":2021,"month":9,"date":1,"utc":true},{"year":2021,"month":11,"date":1,"utc":true},{"year":2022,"month":1,"date":1,"utc":true},{"year":2022,"month":3,"date":1,"utc":true},{"year":2022,"month":5,"date":1,"utc":true},{"year":2022,"month":7,"date":1,"utc":true},{"year":2022,"month":9,"date":1,"utc":true},{"year":2022,"month":11,"date":1,"utc":true},{"year":2023,"month":1,"date":1,"utc":true},{"year":2023,"month":3,"date":1,"utc":true},{"year":2023,"month":5,"date":1,"utc":true}],
"labelFont":"Open Sans","labelFontSize":12,"labelColor":"#7a7a7a","domainColor":"#9a9a9a","domainWidth":1.5,"tickColor":"#9a9a9a","tickSize":7,"labelPadding":2,"labelFlush":false,"labelOverlap":false}}
},
"layer":[
{"data":{"values":[
{"d":"2021-06-13","row":1,"k":"volume","t":"Volume (20, SMA), Daily"},
{"d":"2021-06-13","row":2,"k":"ema50","t":"Exponential Moving Average (50, 0, close), Daily"},
{"d":"2021-06-13","row":3,"k":"ema200","t":"Exponential Moving Average (200, 0, close), Daily"},
{"d":"2021-06-13","row":4,"k":"gapsnake","t":"Gap Snake (0.5), Daily"},
{"d":"2021-06-13","row":5,"k":"vwap","t":"Alphatrends Anchored VWAP (date, no bands, COINBASE:^BTCUSD, 30/11/2017 19:00, ohlc4), Daily"},
{"d":"2021-06-13","row":6,"k":"drawings","t":"Drawings, Daily"}]},
"mark":{"type":"text","align":"left","baseline":"middle","font":"Open Sans","fontSize":12.6},
"encoding":{
"y":{"field":"row","type":"ordinal","scale":{"type":"point","domain":[1,2,3,4,5,6],"range":[92.9,193.3],"padding":0},"axis":null},
"text":{"field":"t"},
"color":{"field":"k","type":"nominal","legend":null,"scale":{"domain":["volume","ema50","ema200","gapsnake","vwap","drawings"],"range":["#6aa6dc","#f4a65a","#6e8f72","#6f7f8f","#8fd0e6","#666666"]}}}},
{"layer":[
{"data":{"values":[{"d":"2021-06-12","d2":"2023-02-19","lo":30,"hi":70}]},
"mark":{"type":"rect","color":"#eaf6fb"},
"encoding":{"x2":{"field":"d2"},"y":{"field":"lo","type":"quantitative","scale":{"domain":[25,125],"range":[1112.2,997.8],"nice":false,"zero":false},"axis":null},"y2":{"field":"hi"}}},
{"data":{"values":[{"d":"2021-06-12","d2":"2023-02-19","y":30},{"d":"2021-06-12","d2":"2023-02-19","y":70}]},
"mark":{"type":"rule","color":"#d2eaf3","strokeWidth":1},
"encoding":{"x2":{"field":"d2"},"y":{"field":"y","type":"quantitative","scale":{"domain":[25,125],"range":[1112.2,997.8],"nice":false,"zero":false},"axis":null}}},
{"data":{"values":[{"d":"2021-06-12","d2":"2023-02-19","y":50}]},
"mark":{"type":"rule","color":"#c9cbdc","strokeWidth":1},
"encoding":{"x2":{"field":"d2"},"y":{"field":"y","type":"quantitative","scale":{"domain":[25,125],"range":[1112.2,997.8],"nice":false,"zero":false},"axis":null}}},
{"data":{"name":"candles"},
"mark":{"type":"line","color":"#38a6e4","strokeWidth":1.8},
"encoding":{"y":{"field":"r","type":"quantitative","scale":{"domain":[25,125],"range":[1112.2,997.8],"nice":false,"zero":false},"axis":null}}},
{"data":{"values":[{"d":"2023-01-13","r":90.1},{"d":"2023-02-21T17:00:00","r":62.5}]},
"mark":{"type":"line","color":"#000000","strokeWidth":4},
"encoding":{"y":{"field":"r","type":"quantitative","scale":{"domain":[25,125],"range":[1112.2,997.8],"nice":false,"zero":false},"axis":null}}},
{"data":{"name":"rticks"},
"mark":{"type":"text","align":"right","baseline":"middle","font":"Open Sans","fontSize":12,"color":"#8c8c8c"},
"encoding":{"y":{"field":"r","type":"quantitative","scale":{"domain":[25,125],"range":[1112.2,997.8],"nice":false,"zero":false},"axis":null},"text":{"field":"r","type":"quantitative","format":".2f"}}},
{"data":{"values":[{"d":"2021-06-13","r":128,"t":"Relative Strength Index (14, 70, 30, close), Daily"}]},
"mark":{"type":"text","align":"left","baseline":"middle","font":"Open Sans","fontSize":12.6,"color":"#5fbbe6"},
"encoding":{"y":{"field":"r","type":"quantitative","scale":{"domain":[25,125],"range":[1112.2,997.8],"nice":false,"zero":false},"axis":null},"text":{"field":"t"}}},
{"data":{"values":[{"d":"2021-06-12","r":-8.9,"t":"©2023 TrendSpider"}]},
"mark":{"type":"text","align":"left","baseline":"middle","font":"Liberation Sans","fontSize":10,"color":"#333333"},
"encoding":{"y":{"field":"r","type":"quantitative","scale":{"domain":[25,125],"range":[1112.2,997.8],"nice":false,"zero":false},"axis":null},"text":{"field":"t"}}},
{"data":{"values":[{"d":"2023-05-16T12:00:00","r":37.6,"t":"Your local time zone"}]},
"mark":{"type":"text","align":"right","baseline":"middle","font":"Open Sans","fontSize":9.5,"color":"#555555"},
"encoding":{"y":{"field":"r","type":"quantitative","scale":{"domain":[25,125],"range":[1112.2,997.8],"nice":false,"zero":false},"axis":null},"text":{"field":"t"}}}
]},
{"layer":[
{"data":{"values":[{"d":"2021-06-12","d2":"2023-05-16T12:00:00","v":0}]},
"mark":{"type":"rule","color":"#c6c6c6","strokeWidth":2},
"encoding":{"x2":{"field":"d2"},"y":{"field":"v","type":"quantitative","scale":{"domain":[0,152],"range":[984.8,832.8],"nice":false},"axis":null}}},
{"data":{"name":"candles"},
"mark":{"type":"bar","width":3.6},
"encoding":{"y":{"field":"v","type":"quantitative","scale":{"domain":[0,152],"range":[984.8,832.8],"nice":false},"axis":null},
"color":{"condition":{"test":"datum.c >= datum.o","value":"#cde7c6"},"value":"#e5a496"}}},
{"data":{"name":"volsma"},
"mark":{"type":"line","color":"#3b8ad8","strokeWidth":1.3},
"encoding":{"y":{"field":"v","type":"quantitative","scale":{"domain":[0,152],"range":[984.8,832.8],"nice":false},"axis":null}}}
]},
{"layer":[
{"data":{"values":[{"d":"2022-05-31","p":20900,"t":"^BTCUSD"}]},
"mark":{"type":"text","align":"center","baseline":"alphabetic","font":"Liberation Sans","fontWeight":"bold","fontSize":86,"color":"#efefef"},
"encoding":{"y":{"field":"p","type":"quantitative","scale":{"type":"log","domain":[8448.7,75814],"range":[983.8,0],"nice":false,"zero":false},"axis":null},"text":{"field":"t"}}},
{"data":{"values":[{"d":"2022-05-31","p":18600,"t":"Bitcoin vs USD, Coinbase Pro (GDAX)"}]},
"mark":{"type":"text","align":"center","baseline":"alphabetic","font":"Liberation Sans","fontSize":38.3,"color":"#ececec"},
"encoding":{"y":{"field":"p","type":"quantitative","scale":{"type":"log","domain":[8448.7,75814],"range":[983.8,0],"nice":false,"zero":false},"axis":null},"text":{"field":"t"}}},
{"data":{"values":[{"d":"2021-06-13","p":65300,"t":"COINBASE:^BTCUSD, Daily, Hollow Candles chart (Logarithmic scale)"}]},
"mark":{"type":"text","align":"left","baseline":"middle","font":"Open Sans","fontSize":12.6,"color":"#333333"},
"encoding":{"y":{"field":"p","type":"quantitative","scale":{"type":"log","domain":[8448.7,75814],"range":[983.8,0],"nice":false,"zero":false},"axis":null},"text":{"field":"t"}}},
{"data":{"values":[{"d":"2021-07-22T12:00:00","p":68860,"t":"Trend"}]},
"mark":{"type":"text","align":"right","baseline":"alphabetic","font":"Lato","fontWeight":"bold","fontSize":26,"color":"#111111"},
"encoding":{"y":{"field":"p","type":"quantitative","scale":{"type":"log","domain":[8448.7,75814],"range":[983.8,0],"nice":false,"zero":false},"axis":null},"text":{"field":"t"}}},
{"data":{"values":[{"d":"2021-07-22T12:00:00","p":68860,"t":"Spider"}]},
"mark":{"type":"text","align":"left","baseline":"alphabetic","font":"Lato","fontWeight":300,"fontSize":26,"color":"#222222"},
"encoding":{"y":{"field":"p","type":"quantitative","scale":{"type":"log","domain":[8448.7,75814],"range":[983.8,0],"nice":false,"zero":false},"axis":null},"text":{"field":"t"}}},
{"data":{"values":[{"d":"2021-08-29T10:00:00","p":69400,"t":"Feb 19, 2023 8:30PM EST"}]},
"mark":{"type":"text","align":"left","baseline":"alphabetic","font":"Open Sans","fontSize":12,"color":"#333333"},
"encoding":{"y":{"field":"p","type":"quantitative","scale":{"type":"log","domain":[8448.7,75814],"range":[983.8,0],"nice":false,"zero":false},"axis":null},"text":{"field":"t"}}},
{"data":{"name":"pticks"},
"mark":{"type":"text","align":"right","baseline":"middle","dy":-6,"font":"Open Sans","fontSize":12,"color":"#8c8c8c"},
"encoding":{"y":{"field":"p","type":"quantitative","scale":{"type":"log","domain":[8448.7,75814],"range":[983.8,0],"nice":false,"zero":false},"axis":null},"text":{"field":"p","type":"quantitative","format":".4f"}}},
{"data":{"values":[{"d":"2021-06-12","d2":"2023-05-16T12:00:00","p":10552.3559}]},
"mark":{"type":"rule","color":"#7a7a7a","strokeWidth":2},
"encoding":{"x2":{"field":"d2"},"y":{"field":"p","type":"quantitative","scale":{"type":"log","domain":[8448.7,75814],"range":[983.8,0],"nice":false,"zero":false},"axis":null}}},
{"data":{"values":[{"d":"2023-04-15T14:00:00","p":10832,"t":"10552.3559"}]},
"mark":{"type":"text","align":"right","baseline":"middle","font":"Open Sans","fontWeight":"bold","fontSize":11.5,"color":"#6f6f6f"},
"encoding":{"y":{"field":"p","type":"quantitative","scale":{"type":"log","domain":[8448.7,75814],"range":[983.8,0],"nice":false,"zero":false},"axis":null},"text":{"field":"t"}}},
{"data":{"name":"candles"},
"mark":{"type":"rule","strokeWidth":1},
"encoding":{"y":{"field":"l","type":"quantitative","scale":{"type":"log","domain":[8448.7,75814],"range":[983.8,0],"nice":false,"zero":false},"axis":null},
"y2":{"field":"h"},
"color":{"condition":{"test":"datum.c >= datum.o","value":"#8a8a8a"},"value":"#b3260e"}}},
{"data":{"name":"candles"},
"mark":{"type":"bar","width":3,"strokeWidth":0.8},
"encoding":{"y":{"field":"o","type":"quantitative","scale":{"type":"log","domain":[8448.7,75814],"range":[983.8,0],"nice":false,"zero":false},"axis":null},
"y2":{"field":"c"},
"fill":{"condition":{"test":"datum.c >= datum.o","value":"#ffffff"},"value":"#b3260e"},
"stroke":{"condition":{"test":"datum.c >= datum.o","value":"#8a8a8a"},"value":"#b3260e"}}},
{"data":{"name":"ema50"},
"mark":{"type":"line","color":"#f5a03c","strokeWidth":1.3,"interpolate":"monotone"},
"encoding":{"y":{"field":"p","type":"quantitative","scale":{"type":"log","domain":[8448.7,75814],"range":[983.8,0],"nice":false,"zero":false},"axis":null}}},
{"data":{"name":"ema200"},
"mark":{"type":"line","color":"#2a602c","strokeWidth":3.2,"interpolate":"monotone"},
"encoding":{"y":{"field":"p","type":"quantitative","scale":{"type":"log","domain":[8448.7,75814],"range":[983.8,0],"nice":false,"zero":false},"axis":null}}},
{"data":{"values":[{"d":"2023-01-13","p":21372},{"d":"2023-02-16","p":24950}]},
"mark":{"type":"line","color":"#000000","strokeWidth":4},
"encoding":{"y":{"field":"p","type":"quantitative","scale":{"type":"log","domain":[8448.7,75814],"range":[983.8,0],"nice":false,"zero":false},"axis":null}}},
{"data":{"values":[{"d":"2023-04-21T14:00:00","d2":"2023-05-21T08:00:00","p":23472,"p2":24433}]},
"mark":{"type":"rect","color":"#b3200f"},
"encoding":{"x2":{"field":"d2"},"y":{"field":"p","type":"quantitative","scale":{"type":"log","domain":[8448.7,75814],"range":[983.8,0],"nice":false,"zero":false},"axis":null},"y2":{"field":"p2"}}},
{"data":{"values":[{"d":"2023-05-06T11:00:00","p":24001.45,"t":"24,001.45"}]},
"mark":{"type":"text","align":"center","baseline":"middle","font":"Open Sans","fontWeight":"bold","fontSize":12,"color":"#ffffff"},
"encoding":{"y":{"field":"p","type":"quantitative","scale":{"type":"log","domain":[8448.7,75814],"range":[983.8,0],"nice":false,"zero":false},"axis":null},"text":{"field":"t"}}}
]}
],
"resolve":{"scale":{"y":"independent","color":"independent"},"axis":{"y":"independent"}}
}
